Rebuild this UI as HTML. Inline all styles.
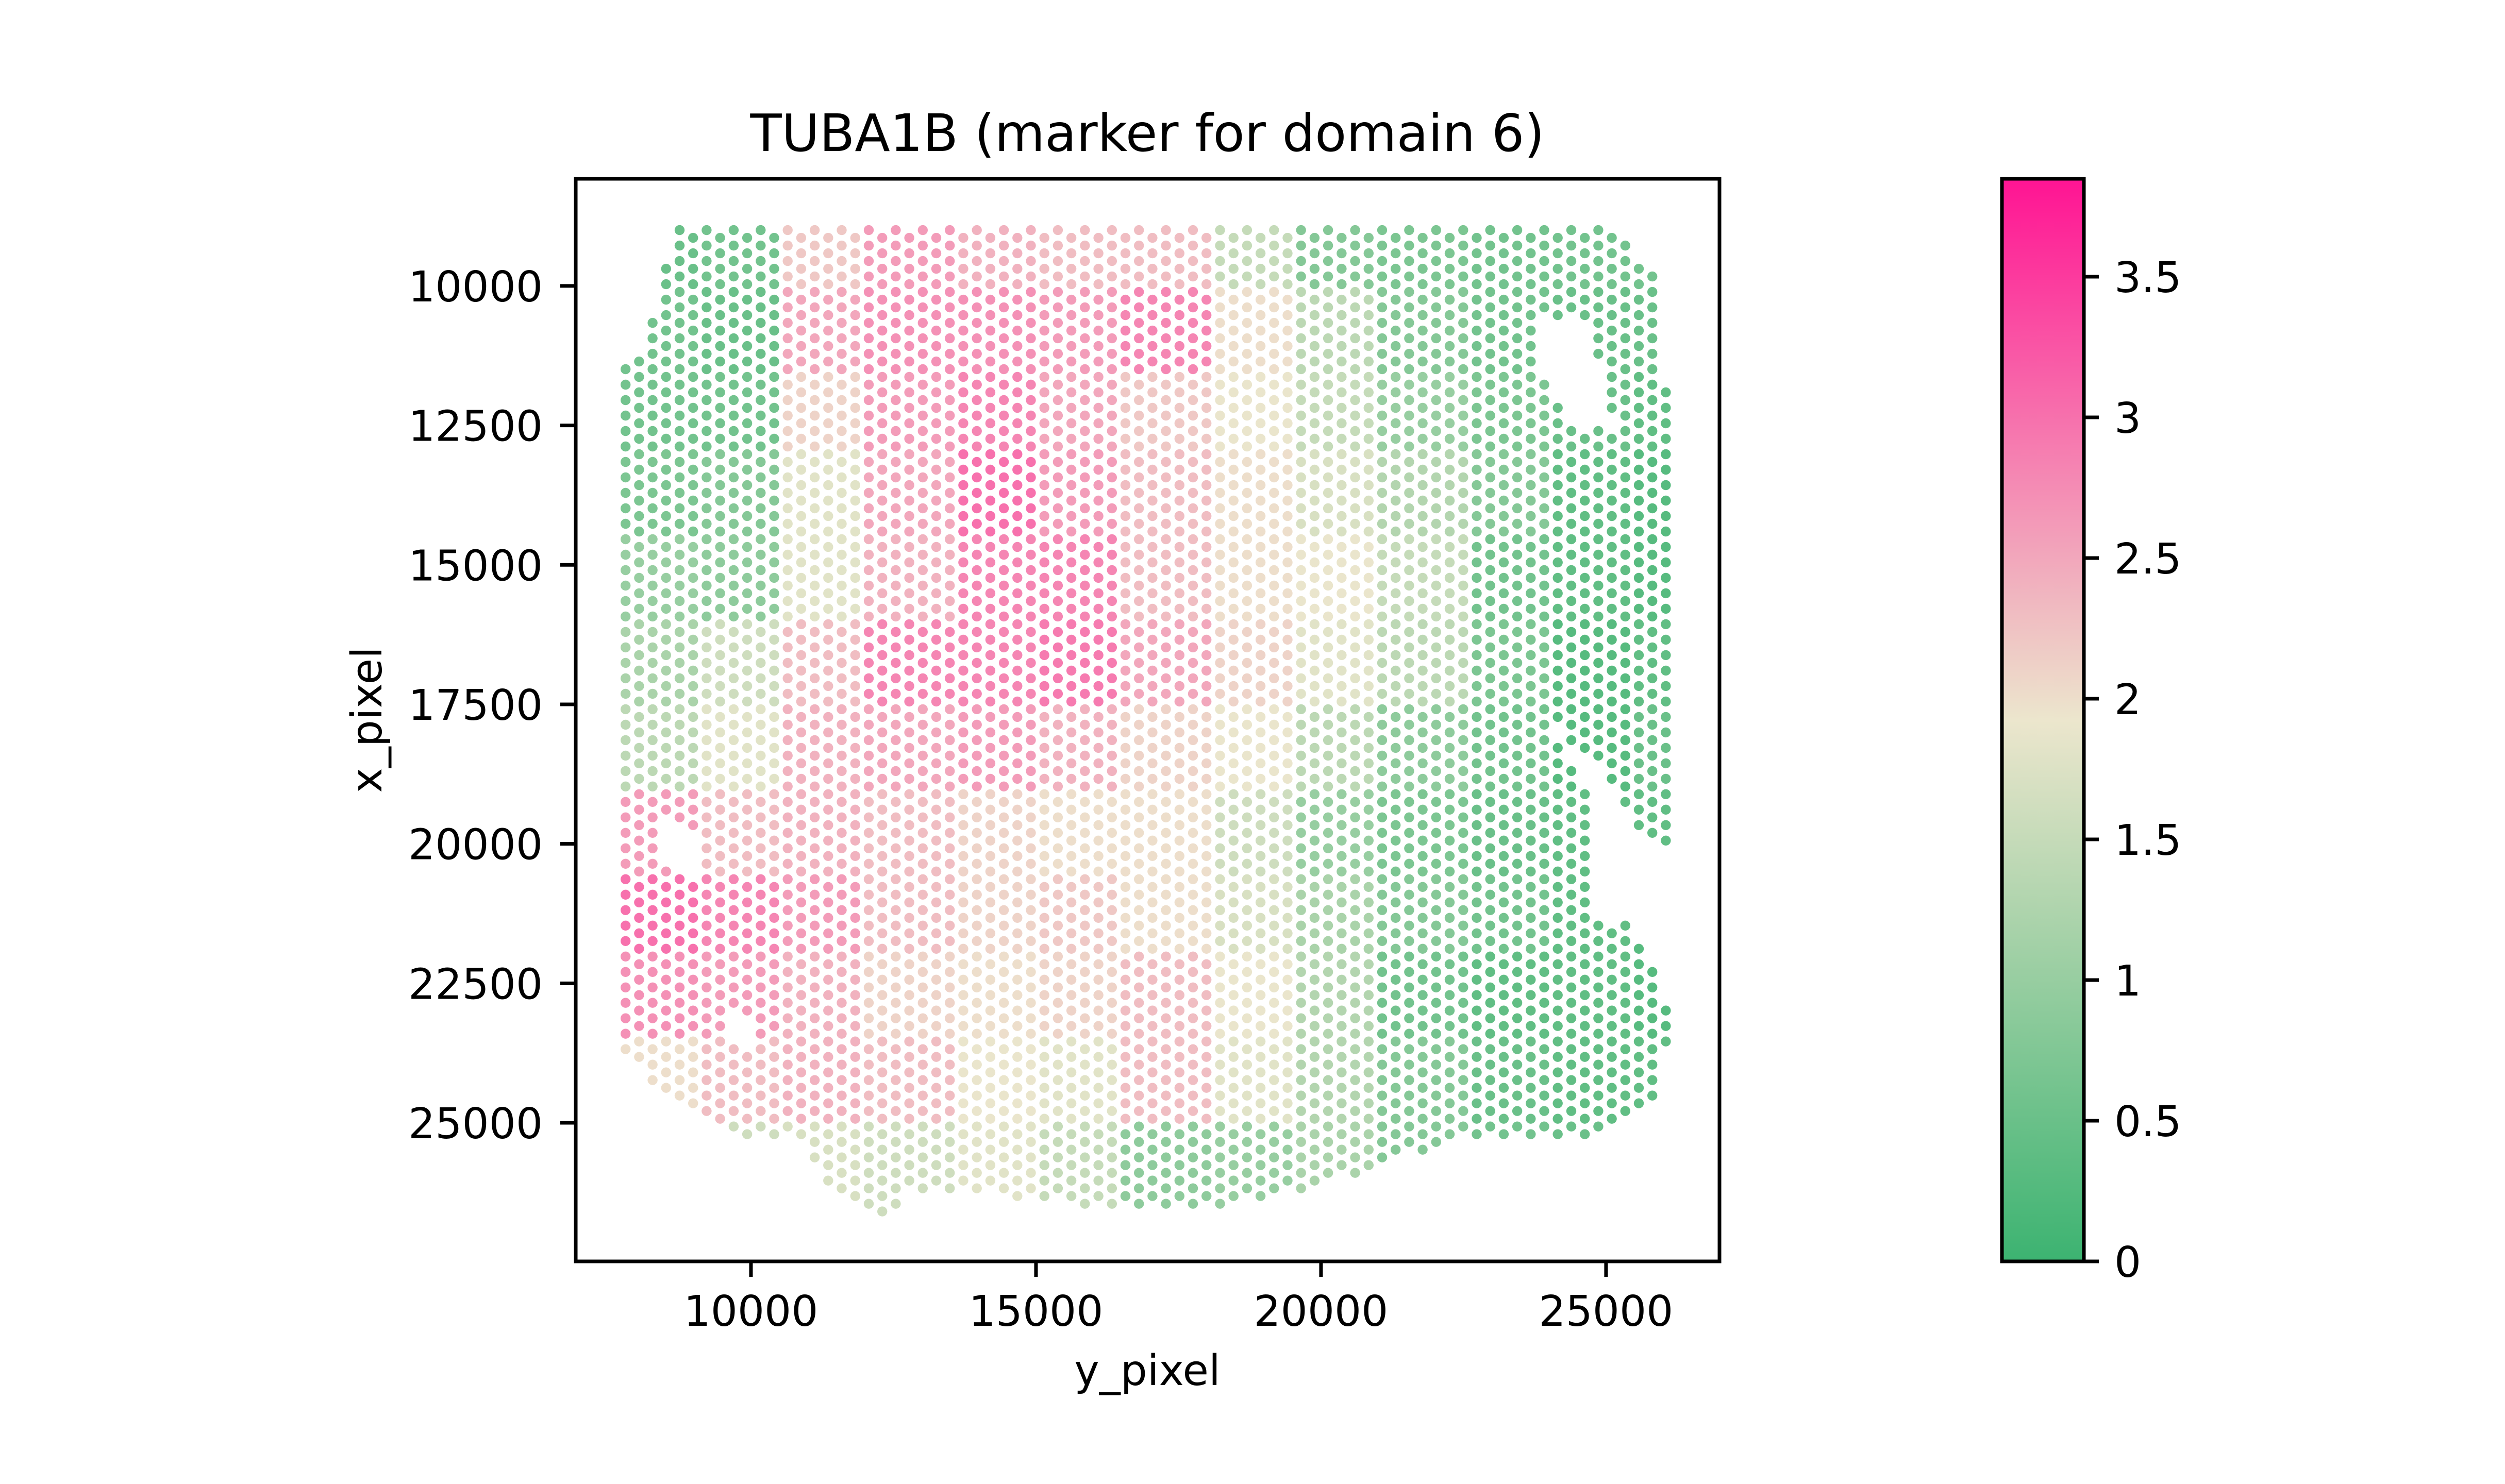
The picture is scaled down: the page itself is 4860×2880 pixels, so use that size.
<!DOCTYPE html>
<html><head><meta charset="utf-8">
<style>
html,body{margin:0;padding:0;background:#fff;}
svg{display:block;}
text{font-family:"DejaVu Sans","Liberation Sans",sans-serif;fill:#000;}
</style></head>
<body>
<svg id="chart" width="4860" height="2880" viewBox="0 0 4860 2880" xmlns="http://www.w3.org/2000/svg">
<defs>
<linearGradient id="cmap" x1="0" y1="1" x2="0" y2="0">
<stop offset="0" stop-color="#3cb371"/>
<stop offset="0.5" stop-color="#ece6cd"/>
<stop offset="1" stop-color="#ff1493"/>
</linearGradient>
</defs>
<rect x="0" y="0" width="4860" height="2880" fill="#fff"/>
<text x="2226" y="293" font-size="100" text-anchor="middle">TUBA1B (marker for domain 6)</text>
<g id="spots"></g>
<rect x="1117" y="347" width="2219" height="2101" fill="none" stroke="#000" stroke-width="7"/>
<g id="xticks"></g>
<g id="yticks"></g>
<text x="2226" y="2688" font-size="82" text-anchor="middle">y_pixel</text>
<text x="0" y="0" font-size="82" text-anchor="middle" transform="translate(740,1397) rotate(-90)">x_pixel</text>
<rect x="3884" y="347" width="159" height="2101" fill="url(#cmap)"/>
<rect x="3884" y="347" width="159" height="2101" fill="none" stroke="#000" stroke-width="7"/>
<g id="cbticks"></g>
</svg>
<script>
// ---- data ----
const xTickValues = [10000, 15000, 20000, 25000];
const yTickValues = [10000, 12500, 15000, 17500, 20000, 22500, 25000];
const cbTickValues = [0, 0.5, 1, 1.5, 2, 2.5, 3, 3.5];
const cbTickLabels = ["0", "0.5", "1", "1.5", "2", "2.5", "3", "3.5"];
// coarse expression map: rows = x_pixel bands (from 8500, step 1500), cols = y_pixel bands (from 7500, step 1500)
const gridRowStart = 8500, gridColStart = 7500, gridStep = 1500;
const exprRow0  = [0.5,0.6,2.2,2.6,2.4,2.3,2.3,1.5,0.8,0.7,0.6,0.6,0.6];
const exprRow1  = [0.6,0.5,2.5,2.7,2.7,2.6,2.8,2.0,1.4,0.8,0.6,0.5,0.5];
const exprRow2  = [0.6,0.6,2.1,2.6,2.8,2.5,2.2,1.9,1.5,1.0,0.7,0.5,0.4];
const exprRow3  = [0.7,0.8,1.8,2.5,3.0,2.6,2.3,2.0,1.7,1.3,0.8,0.4,0.3];
const exprRow4  = [1.0,0.9,1.8,2.4,2.8,2.8,2.3,2.0,1.9,1.5,0.6,0.4,0.3];
const exprRow5  = [1.2,1.6,2.3,2.8,2.8,2.9,2.5,2.1,1.8,1.4,0.7,0.3,0.4];
const exprRow6  = [1.4,1.8,2.4,2.5,2.6,2.4,2.1,1.9,1.4,0.9,0.6,0.3,0.5];
const exprRow7  = [2.6,2.3,2.4,2.3,2.1,2.0,2.0,1.6,1.0,0.7,0.5,0.4,0.4];
const exprRow8  = [3.0,2.8,2.6,2.3,2.1,2.2,2.0,1.7,1.2,0.8,0.6,0.4,0.3];
const exprRow9  = [2.7,2.6,2.4,2.1,2.0,2.1,2.3,1.9,1.3,0.6,0.4,0.4,0.3];
const exprRow10 = [2.0,2.3,2.4,2.3,1.9,1.8,2.3,1.8,1.3,0.8,0.5,0.4,0.4];
const exprRow11 = [1.6,1.6,1.7,1.6,1.8,1.5,0.9,1.0,1.2,0.8,0.6,0.5,0.5];
const exprRow12 = [1.6,1.6,1.7,1.6,1.8,1.5,0.9,1.0,1.2,0.8,0.6,0.5,0.5];
const exprGrid = [exprRow0,exprRow1,exprRow2,exprRow3,exprRow4,exprRow5,exprRow6,exprRow7,exprRow8,exprRow9,exprRow10,exprRow11,exprRow12];
// tissue outline in data units [y_pixel, x_pixel]
const tissueOutline = [[8738,8969],[25139,8969],[25840,9800],[25840,11746],[26176,11746],[26176,20106],[25840,20106],[24858,18617],[24578,18331],[23961,17816],[24578,18903],[24746,19190],[24746,21337],[25419,21480],[25840,22196],[26120,23198],[25924,24486],[24858,25259],[22195,25345],[21214,25717],[20093,26118],[18410,26490],[16448,26576],[14205,26289],[12663,26203],[12663,26690],[12383,26690],[11402,26203],[10841,25259],[9720,25259],[8879,24629],[8458,24629],[7757,23627],[7757,11460],[8178,10887],[8318,10315],[8598,9170]];
const tissueHoles = [
  [[23877,10601],[24438,10458],[24999,11460],[25139,12462],[24578,12605],[23877,11603]],
  [[8318,19476],[9159,19905],[9159,20564],[8458,20478]],
  [[9579,22969],[10000,23198],[9950,23627],[9579,23484]]
];
const latticeH0 = 7800, latticeHStep = 237, latticeV0 = 9000, latticeVStep = 138.5, latticeCols = 80, latticeRows = 128;
const cbMax = 3.848;

// ---- axes ----
const plotL = 1117, plotR = 3336, plotT = 347, plotB = 2448;
const hMin = 6926, hMax = 26990, vMin = 8080, vMax = 27484;
const xScale = h => plotL + (h - hMin) / (hMax - hMin) * (plotR - plotL);
const yScale = v => plotT + (v - vMin) / (vMax - vMin) * (plotB - plotT);
const cbT = 347, cbB = 2448, cbR = 4043;
const cbScale = c => cbB - c / cbMax * (cbB - cbT);
const NS = "http://www.w3.org/2000/svg";

function inPoly(px, py, poly){
  let inside = false;
  for (let i = 0, j = poly.length - 1; i < poly.length; j = i++){
    const xi = poly[i][0], yi = poly[i][1], xj = poly[j][0], yj = poly[j][1];
    if (((yi > py) !== (yj > py)) && (px < (xj - xi) * (py - yi) / (yj - yi) + xi)) inside = !inside;
  }
  return inside;
}
function lerp(a,b,t){return Math.round(a+(b-a)*t);}
function cmap(val){
  let t = Math.max(0, Math.min(1, val / cbMax));
  const c0=[60,179,113], c1=[236,230,205], c2=[255,20,147];
  let a,b,u;
  if (t < 0.5){a=c0;b=c1;u=t/0.5;} else {a=c1;b=c2;u=(t-0.5)/0.5;}
  return "rgb("+lerp(a[0],b[0],u)+","+lerp(a[1],b[1],u)+","+lerp(a[2],b[2],u)+")";
}

const spotsG = document.getElementById("spots");
for (let k = 0; k < latticeCols; k++){
  for (let j = 0; j < latticeRows; j++){
    if ((j + k) % 2) continue;
    const h = latticeH0 + k * latticeHStep, v = latticeV0 + j * latticeVStep;
    if (!inPoly(h, v, tissueOutline)) continue;
    if (tissueHoles.some(p => inPoly(h, v, p))) continue;
    const r = Math.min(exprGrid.length - 1, Math.max(0, Math.floor((v - gridRowStart) / gridStep)));
    const c = Math.min(exprGrid[0].length - 1, Math.max(0, Math.floor((h - gridColStart) / gridStep)));
    const val = exprGrid[r][c];
    const el = document.createElementNS(NS, "circle");
    el.setAttribute("cx", xScale(h).toFixed(1));
    el.setAttribute("cy", yScale(v).toFixed(1));
    el.setAttribute("r", "9.7");
    el.setAttribute("fill", cmap(val));
    
    
    spotsG.appendChild(el);
  }
}

const xg = document.getElementById("xticks");
xTickValues.forEach(t => {
  const x = xScale(t);
  const ln = document.createElementNS(NS, "line");
  ln.setAttribute("x1", x); ln.setAttribute("x2", x); ln.setAttribute("y1", plotB); ln.setAttribute("y2", plotB + 30);
  ln.setAttribute("stroke", "#000"); ln.setAttribute("stroke-width", "7");
  
  
  xg.appendChild(ln);
  const tx = document.createElementNS(NS, "text");
  tx.setAttribute("x", x); tx.setAttribute("y", plotB + 125);
  tx.setAttribute("font-size", "82"); tx.setAttribute("text-anchor", "middle");
  tx.textContent = String(t);
  
  
  xg.appendChild(tx);
});
const yg = document.getElementById("yticks");
yTickValues.forEach(t => {
  const y = yScale(t);
  const ln = document.createElementNS(NS, "line");
  ln.setAttribute("x1", plotL - 30); ln.setAttribute("x2", plotL); ln.setAttribute("y1", y); ln.setAttribute("y2", y);
  ln.setAttribute("stroke", "#000"); ln.setAttribute("stroke-width", "7");
  
  
  yg.appendChild(ln);
  const tx = document.createElementNS(NS, "text");
  tx.setAttribute("x", plotL - 64); tx.setAttribute("y", y + 30);
  tx.setAttribute("font-size", "82"); tx.setAttribute("text-anchor", "end");
  tx.textContent = String(t);
  
  
  yg.appendChild(tx);
});
const cg = document.getElementById("cbticks");
cbTickValues.forEach((t, i) => {
  const y = cbScale(t);
  const ln = document.createElementNS(NS, "line");
  ln.setAttribute("x1", cbR); ln.setAttribute("x2", cbR + 29); ln.setAttribute("y1", y); ln.setAttribute("y2", y);
  ln.setAttribute("stroke", "#000"); ln.setAttribute("stroke-width", "7");
  
  
  cg.appendChild(ln);
  const tx = document.createElementNS(NS, "text");
  tx.setAttribute("x", 4102); tx.setAttribute("y", y + 30);
  tx.setAttribute("font-size", "82"); tx.setAttribute("text-anchor", "start");
  tx.textContent = cbTickLabels[i];
  
  
  cg.appendChild(tx);
});
</script>
</body></html>
